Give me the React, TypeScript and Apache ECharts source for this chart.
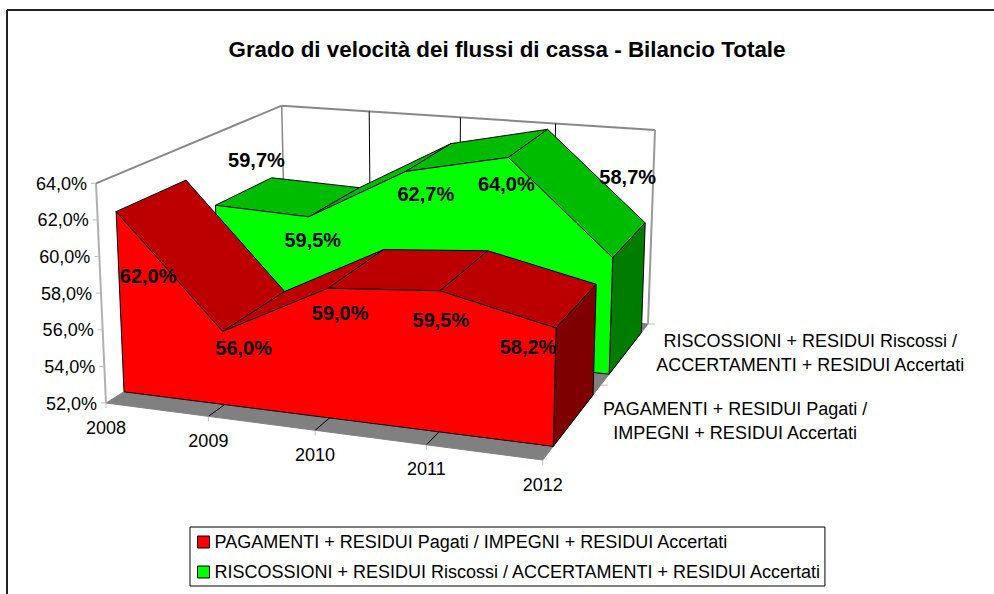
import React, { useEffect, useRef } from "react";
import * as echarts from "echarts";

const titleText = "Grado di velocità dei flussi di cassa - Bilancio Totale";
const years = ["2008", "2009", "2010", "2011", "2012"];
const yTicks = [52, 54, 56, 58, 60, 62, 64];
const redName = "PAGAMENTI + RESIDUI Pagati / IMPEGNI + RESIDUI Accertati";
const greenName = "RISCOSSIONI + RESIDUI Riscossi / ACCERTAMENTI + RESIDUI Accertati";
const redValues = [62.0, 56.0, 59.0, 59.5, 58.2];
const greenValues = [59.7, 59.5, 62.7, 64.0, 58.7];
const depthLabels = [
  "PAGAMENTI + RESIDUI Pagati /\nIMPEGNI + RESIDUI Accertati",
  "RISCOSSIONI + RESIDUI Riscossi /\nACCERTAMENTI + RESIDUI Accertati",
];

// ---- layout of the 3D box (screen corners, perspective factor, depth slots)
const FONT = "'Liberation Sans', Arial, sans-serif";
const GRID = { left: 100, top: 100, width: 400, height: 400 };
const K = 1.0885;
const C: Record<string, [number, number]> = {
  "000": [106, 403], "100": [542.7, 460], "010": [96, 183.3], "110": [548, 227],
  "001": [286, 291], "101": [648, 324], "011": [281.7, 105.7], "111": [655, 130],
};
const RED_Z: [number, number] = [0.1, 0.478];
const GREEN_Z: [number, number] = [0.631, 0.937];
const redLabelOffset = [[32, 64], [21, 16], [12, 25], [1, 29], [-28, 19]];
const greenLabelOffset = [[41, -45], [4, 23], [20, 23], [-2, 27], [15, -81]];

const warp = (t: number) => t / (t + K * (1 - t));
function project(tx: number, v: number, z: number): number[] {
  const x = warp(tx);
  const out = [0, 0];
  for (const a of [0, 1]) for (const b of [0, 1]) for (const c of [0, 1]) {
    const w = (a ? x : 1 - x) * (b ? v : 1 - v) * (c ? z : 1 - z);
    const p = C[`${a}${b}${c}`];
    out[0] += w * p[0];
    out[1] += w * p[1];
  }
  return out;
}
function norm(api: any, i: number, val: number): number[] {
  const c = api.coord([i, val]);
  return [(c[0] - GRID.left) / GRID.width, 1 - (c[1] - GRID.top) / GRID.height];
}
const fmt = (v: number) => v.toFixed(1).replace(".", ",") + "%";

function line(a: number[], b: number[], stroke: string, lineWidth = 1) {
  return { type: "line", shape: { x1: a[0], y1: a[1], x2: b[0], y2: b[1] }, style: { stroke, lineWidth }, silent: true };
}
function poly(points: number[][], fill: string, stroke: string | null = "#000") {
  return { type: "polygon", shape: { points }, style: { fill, stroke, lineWidth: 1, lineJoin: "round" }, silent: true };
}
function text(x: number, y: number, t: string, opts: any = {}) {
  return {
    type: "text", x, y, silent: true,
    style: { text: t, fontFamily: FONT, fontSize: 18, fill: "#000", align: "center", verticalAlign: "middle", ...opts },
  };
}

function renderFrame(_p: any, api: any) {
  const n = years.length - 1;
  const yMin = yTicks[0];
  const base = norm(api, 0, yMin)[1];
  const top = norm(api, 0, yTicks[yTicks.length - 1])[1];
  const ch: any[] = [];
  // floor
  ch.push(poly([project(0, base, 0), project(1, base, 0), project(1, base, 1), project(0, base, 1)], "#808080", "#808080"));
  // wall edges
  ch.push(line(project(0, base, 0), project(0, top, 0), "#b0b0b0", 2));
  ch.push(line(project(0, top, 0), project(0, top, 1), "#888", 2));
  ch.push(line(project(0, top, 1), project(1, top, 1), "#888", 2));
  ch.push(line(project(0, top, 1), project(0, base, 1), "#888", 1.5));
  ch.push(line(project(1, top, 1), project(1, base, 1), "#999", 2));
  // grid lines
  years.forEach((_y, i) => {
    const t = norm(api, i, yMin)[0];
    if (i > 0 && i < n) {
      ch.push(line(project(t, base, 1), project(t, top, 1), "#000", 1));
      ch.push(line(project(t, base, 0), project(t, base, 1), "#000", 1));
    }
    const p = project(t, base, 0);
    ch.push(line(p, [p[0], p[1] + 5], "#bbb", 1));
    ch.push(text(p[0], p[1] + 24.5, years[i]));
  });
  yTicks.forEach((v) => {
    const nv = norm(api, 0, v)[1];
    const p = project(0, nv, 0);
    ch.push(line([p[0] - 5, p[1]], p, "#bbb", 1));
    ch.push(text(p[0] - 9, p[1] + 0.5, fmt(v), { align: "right" }));
  });
  // depth ticks and labels
  [0.55, 1].forEach((z) => {
    const p = project(1, base, z);
    ch.push(line(p, [p[0] + 7, p[1]], "#bbb", 1));
  });
  const pr = project(1, base, (RED_Z[0] + RED_Z[1]) / 2);
  const pg = project(1, base, (GREEN_Z[0] + GREEN_Z[1]) / 2);
  ch.push(text(pr[0] + 162, pr[1], depthLabels[0], { lineHeight: 24 }));
  ch.push(text(pg[0] + 185, pg[1], depthLabels[1], { lineHeight: 24 }));
  return { type: "group", children: ch };
}

function areaRenderer(zr: [number, number], front: string, topFill: string, side: string) {
  return (params: any, api: any) => {
    if (params.dataIndex !== 0) return null;
    const n = years.length;
    const base = norm(api, 0, yTicks[0])[1];
    const pts = years.map((_y, i) => norm(api, api.value(0, i), api.value(1, i)));
    const ch: any[] = [];
    for (let i = 0; i < n - 1; i++) {
      const a = pts[i], b = pts[i + 1];
      ch.push(poly([project(a[0], a[1], zr[0]), project(b[0], b[1], zr[0]), project(b[0], b[1], zr[1]), project(a[0], a[1], zr[1])], topFill));
    }
    const l = pts[n - 1];
    ch.push(poly([project(l[0], l[1], zr[0]), project(l[0], l[1], zr[1]), project(l[0], base, zr[1]), project(l[0], base, zr[0])], side));
    const f = pts.map((p) => project(p[0], p[1], zr[0]));
    ch.push(poly([project(0, base, zr[0]), ...f, project(1, base, zr[0])], front));
    return { type: "group", children: ch };
  };
}

function labelRenderer(zr: number, offsets: number[][]) {
  return (params: any, api: any) => {
    const i = params.dataIndex;
    const val = api.value(1);
    const p0 = norm(api, api.value(0), val);
    const p = project(p0[0], p0[1], zr);
    return text(p[0] + offsets[i][0], p[1] + offsets[i][1], fmt(val), { fontSize: 20, fontWeight: "bold" });
  };
}

const toData = (vals: number[]) => vals.map((v, i) => [i, v]);

export default function App() {
  const ref = useRef<HTMLDivElement>(null);
  useEffect(() => {
    document.body.style.margin = "0";
    const chart = echarts.init(ref.current!, undefined, { renderer: "svg" });
    chart.setOption({
      animation: false,
      backgroundColor: "#fff",
      title: {
        text: titleText, left: 502, top: 33, textAlign: "center",
        textStyle: { fontFamily: FONT, fontSize: 22.4, fontWeight: "bold", color: "#000" },
      },
      grid: GRID,
      xAxis: { type: "category", data: years, boundaryGap: false, show: false },
      yAxis: { type: "value", min: 52, max: 64, interval: 2, show: false },
      legend: {
        left: 190, top: 527, orient: "vertical", padding: [6, 3, 5, 7], itemGap: 12,
        itemWidth: 12, itemHeight: 12, icon: "rect", selectedMode: false,
        backgroundColor: "#fff", borderColor: "#000", borderWidth: 1,
        data: [redName, greenName],
        itemStyle: { borderColor: "#000", borderWidth: 1 },
        textStyle: { fontFamily: FONT, fontSize: 18, color: "#000", padding: 0 },
      },
      graphic: [
        { type: "line", shape: { x1: 7, y1: 10, x2: 994, y2: 10 }, style: { stroke: "#222", lineWidth: 2 } },
        { type: "line", shape: { x1: 7, y1: 10, x2: 7, y2: 594 }, style: { stroke: "#222", lineWidth: 2 } },
      ],
      series: [
        { type: "custom", z: 1, data: [[0, 52]], renderItem: renderFrame, silent: true },
        { type: "custom", z: 2, name: greenName, itemStyle: { color: "#00FF00" }, data: toData(greenValues),
          renderItem: areaRenderer(GREEN_Z, "#00FF00", "#00BC00", "#007C00"), silent: true },
        { type: "custom", z: 3, name: redName, itemStyle: { color: "#FF0000" }, data: toData(redValues),
          renderItem: areaRenderer(RED_Z, "#FF0000", "#BC0000", "#7E0000"), silent: true },
        { type: "custom", z: 4, data: toData(greenValues), renderItem: labelRenderer(GREEN_Z[0], greenLabelOffset), silent: true },
        { type: "custom", z: 4, data: toData(redValues), renderItem: labelRenderer(RED_Z[0], redLabelOffset), silent: true },
      ],
    });
    return () => chart.dispose();
  }, []);
  return <div ref={ref} style={{ width: 994, height: 594 }} />;
}
